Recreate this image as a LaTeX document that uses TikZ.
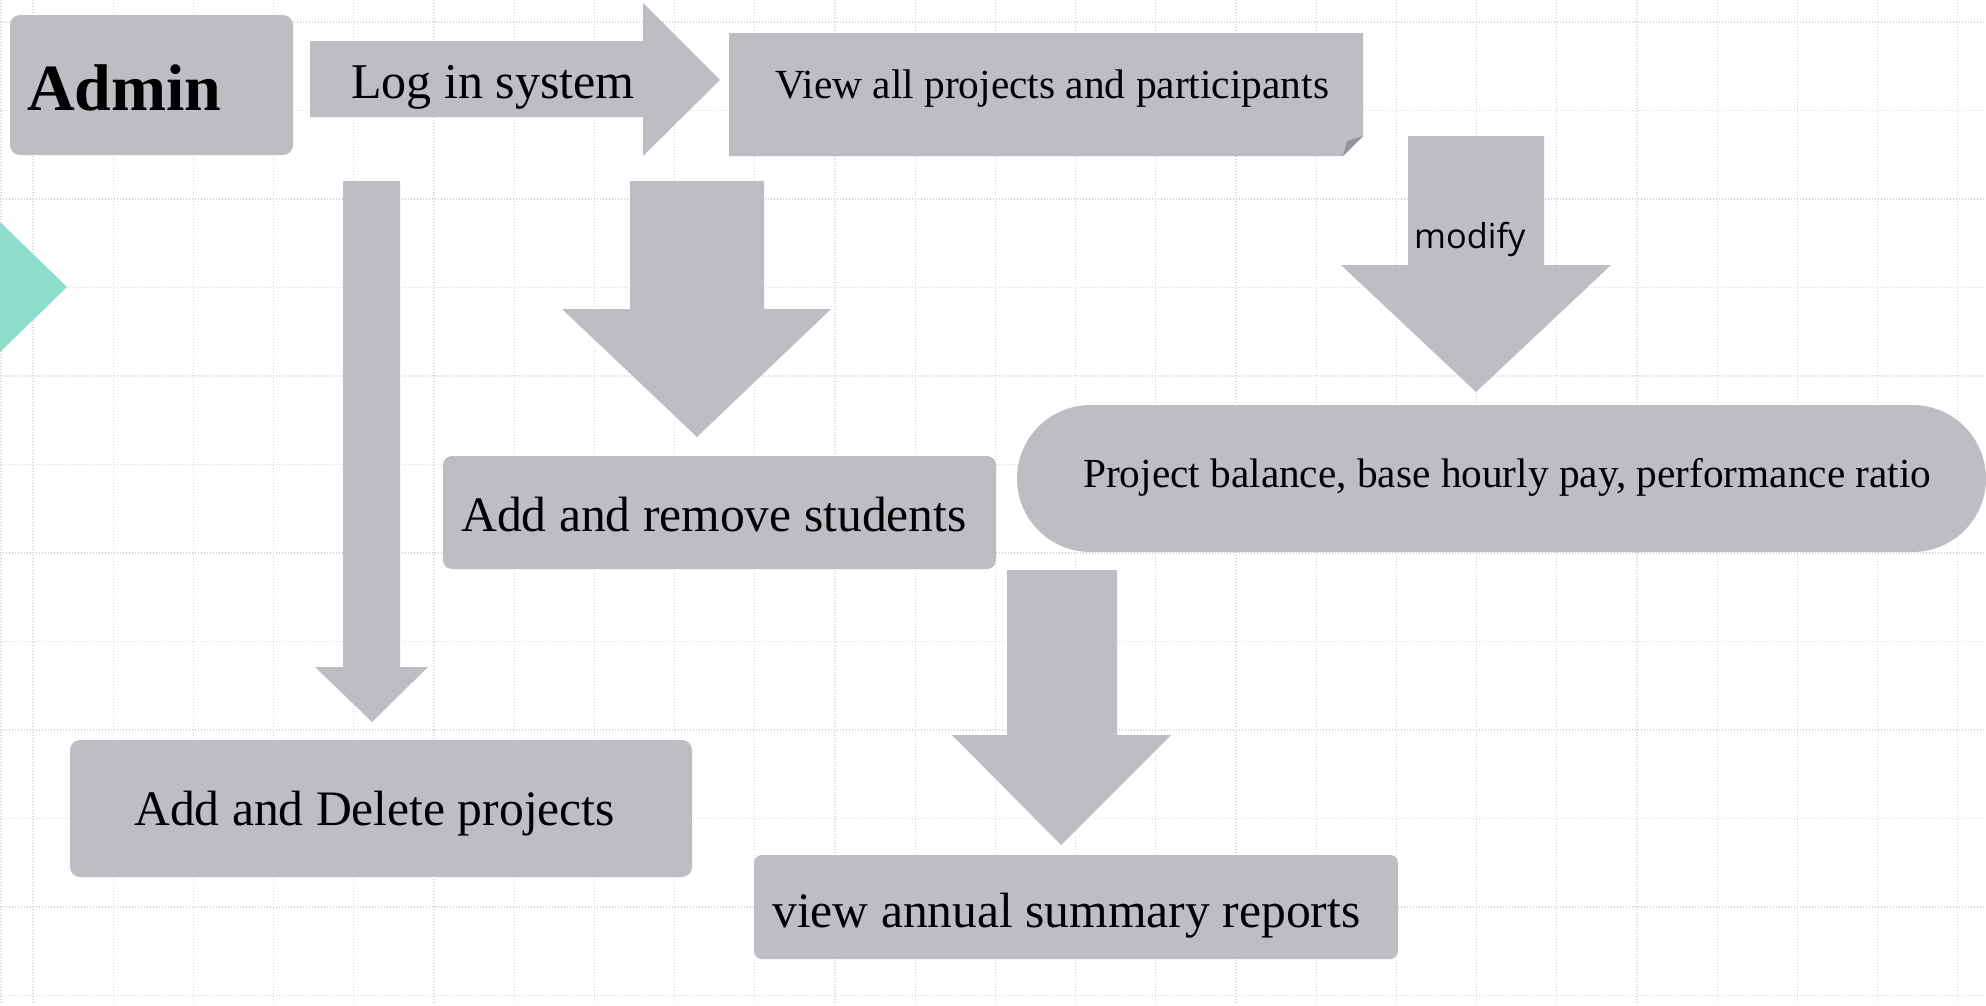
\documentclass[tikz,border=0pt]{standalone}
\usepackage{fontspec}
\setmainfont{Liberation Serif}
\newfontfamily\sansf{Open Sans}
\definecolor{shapegray}{RGB}{185,184,190}
\definecolor{folddark}{RGB}{148,148,154}
\definecolor{gridgray}{RGB}{214,214,216}
\definecolor{mint}{RGB}{140,222,203}
\tikzset{
  shp/.style={fill=shapegray, fill opacity=0.92},
  gridln/.style={draw=gridgray, line width=1.2pt, dash pattern=on 1.2pt off 1.8pt},
  txt/.style={inner sep=0pt, anchor=base west, text=black},
}
\newcommand{\fs}[1]{\fontsize{#1pt}{#1pt}\selectfont}
\begin{document}
\begin{tikzpicture}[x=1pt,y=-1pt]
\useasboundingbox (0,0) rectangle (1986,1005);
\fill[white] (0,0) rectangle (1986,1005);
% grid
\draw[gridln] (1,0) -- (1,1005);
\foreach \k in {0,...,24} {
  \draw[gridln] ({33+80.2*\k},0) -- ({33+80.2*\k},1005);
}
\foreach \k in {0,...,11} {
  \draw[gridln] (0,{22+88.5*\k}) -- (1986,{22+88.5*\k});
}
% teal triangle
\fill[mint] (0,222) -- (67,287) -- (0,352) -- cycle;
% Admin box
\fill[shp, rounded corners=10pt] (10,15) rectangle (293,155);
% Log in arrow
\fill[shp] (310,41) -- (643,41) -- (643,3) -- (720,80) -- (643,156) -- (643,117) -- (310,117) -- cycle;
% View box with folded corner
\fill[shp] (729,33) -- (1363,33) -- (1363,136) -- (1343,156) -- (729,156) -- cycle;
\fill[folddark] (1363,136) -- (1343,156) .. controls (1345,148) .. (1347,141) -- cycle;
% modify arrow
\fill[shp] (1408,136) -- (1544,136) -- (1544,265) -- (1611,265) -- (1476,392) -- (1341,265) -- (1408,265) -- cycle;
% pill
\fill[shp, rounded corners=73.5pt] (1017,405) rectangle (1986,552);
% arrow A (to Add and Delete projects)
\fill[shp] (343,181) -- (400,181) -- (400,667) -- (428,667) -- (372,722) -- (315,667) -- (343,667) -- cycle;
% arrow B (to Add and remove students)
\fill[shp] (630,181) -- (764,181) -- (764,309) -- (831,309) -- (697,437) -- (562,309) -- (630,309) -- cycle;
% arrow D (to view annual summary reports)
\fill[shp] (1007,570) -- (1117,570) -- (1117,735) -- (1171,735) -- (1061,845) -- (952,735) -- (1007,735) -- cycle;
% boxes
\fill[shp, rounded corners=9pt] (443,456) rectangle (996,569);
\fill[shp, rounded corners=10pt] (70,740) rectangle (692,877);
\fill[shp, rounded corners=8pt] (754,855) rectangle (1398,959);
% texts
\node[txt, font=\fs{66}\bfseries] (admin) at (27,110) {Admin};
\node[txt, font=\fs{50}] (login) at (351,98) {Log in system};
\node[txt, font=\fs{41.4}] (viewall) at (775,98) {View all projects and participants};
\node[txt, font=\sansf\fs{34.3}] (modify) at (1414,248) {modify};
\node[txt, font=\fs{41.3}] (balance) at (1083,487) {Project balance, base hourly pay, performance ratio};
\node[txt, font=\fs{49.6}] (students) at (461,531) {Add and remove students};
\node[txt, font=\fs{49.6}] (projects) at (134,825) {Add and Delete projects};
\node[txt, font=\fs{49.6}] (reports) at (772,927) {view annual summary reports};
\end{tikzpicture}
\end{document}
